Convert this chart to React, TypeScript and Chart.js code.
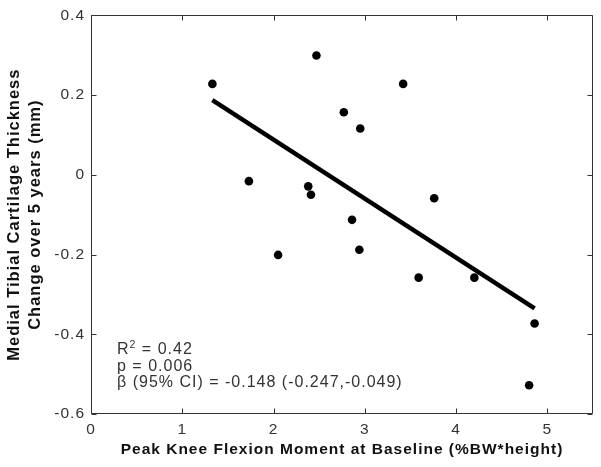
import React, { useEffect, useRef } from "react";
import { Chart, registerables } from "chart.js";

Chart.register(...registerables);

// Peak knee flexion moment at baseline (%BW*height)
const kneeMoment = [1.33, 2.47, 2.77, 2.95, 3.42, 1.73, 2.05, 2.38, 2.41, 2.86, 2.94, 3.76, 3.59, 4.2, 4.86, 4.8];
// Medial tibial cartilage thickness change over 5 years (mm)
const thicknessChange = [0.228, 0.299, 0.157, 0.116, 0.228, -0.016, -0.201, -0.029, -0.05, -0.113, -0.188, -0.059, -0.258, -0.258, -0.373, -0.528];
// Regression line end points
const fitX = [1.33, 4.86];
const fitY = [0.187, -0.335];

const xTickValues = [0, 1, 2, 3, 4, 5];
const yTickValues = [-0.6, -0.4, -0.2, 0, 0.2, 0.4];

const xTitle = "Peak Knee Flexion Moment at Baseline (%BW*height)";
const yTitle = ["Medial Tibial Cartilage Thickness", "Change over 5 years (mm)"];
const rSquared = "0.42";
const pValue = "p = 0.006";
const betaText = "\u03B2 (95% CI) = -0.148 (-0.247,-0.049)";

const FONT = "'Liberation Sans', Arial, Helvetica, sans-serif";

const framePlugin = {
  id: "framePlugin",
  beforeDraw(chart: any) {
    chart.ctx.letterSpacing = "1px";
  },
  afterDraw(chart: any) {
    const ctx = chart.ctx;
    const xs = chart.scales.x;
    const ys = chart.scales.y;
    const { left, right, top, bottom } = chart.chartArea;
    const L = Math.round(left) + 0.5;
    const R = Math.round(right) - 0.5;
    const T = Math.round(top) + 0.5;
    const B = Math.round(bottom) - 0.5;
    ctx.save();
    ctx.strokeStyle = "#333";
    ctx.lineWidth = 1;
    ctx.beginPath();
    ctx.rect(L, T, R - L, B - T);
    ctx.stroke();
    const tl = 5;
    ctx.beginPath();
    xTickValues.forEach((v) => {
      const px = Math.round(xs.getPixelForValue(v)) + 0.5;
      ctx.moveTo(px, B);
      ctx.lineTo(px, B - tl);
      ctx.moveTo(px, T);
      ctx.lineTo(px, T + tl);
    });
    yTickValues.forEach((v) => {
      const py = Math.round(ys.getPixelForValue(v)) + 0.5;
      ctx.moveTo(L, py);
      ctx.lineTo(L + tl, py);
      ctx.moveTo(R, py);
      ctx.lineTo(R - tl, py);
    });
    ctx.stroke();

    // statistics annotation
    ctx.fillStyle = "#333";
    ctx.textBaseline = "alphabetic";
    ctx.textAlign = "left";
    ctx.letterSpacing = "1px";
    const x0 = xs.getPixelForValue(0.285);
    const b1 = ys.getPixelForValue(-0.45);
    const b2 = ys.getPixelForValue(-0.4915);
    const b3 = ys.getPixelForValue(-0.5325);
    ctx.font = `16px ${FONT}`;
    ctx.fillText("R", x0, b1);
    const wR = ctx.measureText("R").width;
    ctx.font = `10.5px ${FONT}`;
    ctx.fillText("2", x0 + wR, b1 - 6.5);
    const w2 = ctx.measureText("2").width;
    ctx.font = `16px ${FONT}`;
    ctx.fillText(" = " + rSquared, x0 + wR + w2, b1);
    ctx.fillText(pValue, x0, b2);
    ctx.fillText(betaText, x0, b3);
    ctx.restore();
    ctx.letterSpacing = "0px";
  },
};

export default function App() {
  const canvasRef = useRef<HTMLCanvasElement | null>(null);

  useEffect(() => {
    document.body.style.margin = "0";
    const canvas = canvasRef.current;
    if (!canvas) return;
    const points = kneeMoment.map((x, i) => ({ x, y: thicknessChange[i] }));
    const fit = fitX.map((x, i) => ({ x, y: fitY[i] }));
    const chart = new Chart(canvas, {
      type: "scatter",
      data: {
        datasets: [
          {
            type: "line",
            data: fit,
            showLine: true,
            borderColor: "#000",
            borderWidth: 4.5,
            pointRadius: 0,
            fill: false,
          } as any,
          {
            type: "scatter",
            data: points,
            backgroundColor: "#000",
            borderColor: "#000",
            pointRadius: 4.3,
            borderWidth: 0,
          },
        ],
      },
      options: {
        animation: false,
        responsive: false,
        devicePixelRatio: 1,
        layout: { padding: { top: 14, right: 8, left: 0, bottom: 0 } },
        plugins: {
          legend: { display: false },
          tooltip: { enabled: false },
        },
        scales: {
          x: {
            type: "linear",
            min: 0,
            max: 5.5,
            afterFit: (scale: any) => {
              scale.height = 53;
            },
            grid: { display: false, drawTicks: false },
            border: { display: false },
            ticks: {
              stepSize: 1,
              includeBounds: false,
              padding: 6,
              color: "#333",
              font: { family: FONT, size: 15.5 },
              callback: (v: any) => String(v),
            },
            title: {
              display: true,
              text: xTitle,
              color: "#111",
              font: { family: FONT, size: 15.5, weight: "bold" },
              padding: { top: 0, bottom: 8 },
            },
          },
          y: {
            type: "linear",
            min: -0.6,
            max: 0.4,
            afterFit: (scale: any) => {
              scale.width = 91;
            },
            grid: { display: false, drawTicks: false },
            border: { display: false },
            ticks: {
              stepSize: 0.2,
              padding: 6,
              color: "#333",
              font: { family: FONT, size: 15.5 },
              callback: (v: any) => String(parseFloat(Number(v).toFixed(1))),
            },
            title: {
              display: true,
              text: yTitle,
              color: "#111",
              font: { family: FONT, size: 16.5, weight: "bold", lineHeight: "21px" },
              padding: { top: 3.5, bottom: 0 },
            },
          },
        },
      },
      plugins: [framePlugin],
    });
    return () => chart.destroy();
  }, []);

  return (
    <div style={{ width: 601, height: 467 }}>
      <canvas ref={canvasRef} width={601} height={467} style={{ display: "block" }} />
    </div>
  );
}
